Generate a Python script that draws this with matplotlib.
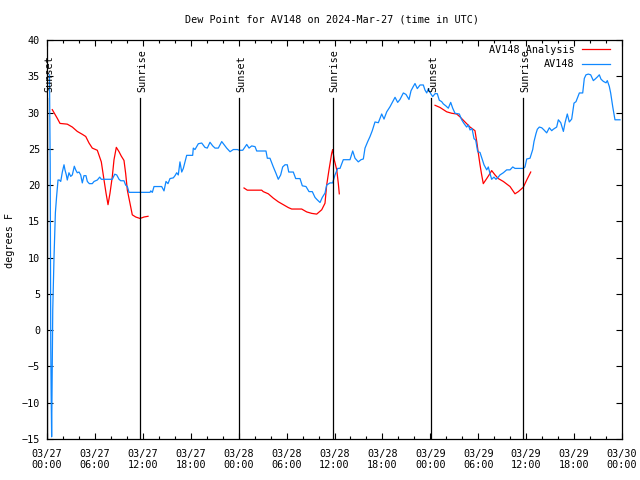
import numpy as np
import matplotlib
matplotlib.use("Agg")
import matplotlib.pyplot as plt
from matplotlib.ticker import MultipleLocator, FixedLocator

# ---- data (hours since 2024-03-27 00:00 UTC) ----
obs_hours = [0.31, 0.40, 0.47, 0.52, 0.58, 0.72, 0.88, 1.05, 1.20, 1.38, 1.54, 1.72, 1.92, 2.13, 2.25,
             2.42, 2.54, 2.75, 2.97, 3.17, 3.42, 3.59, 3.79, 4.01, 4.22, 4.42, 4.63, 4.88, 5.05, 5.30,
             5.67, 5.89, 6.30, 6.60, 6.80, 8.18, 8.48, 8.73, 9.02, 9.23, 9.64, 9.85, 10.06, 10.27, 12.90,
             12.99, 13.19, 13.40, 14.36, 14.65, 14.90, 15.15, 15.40, 15.82, 16.03, 16.24, 16.44, 16.65, 16.87,
             17.07, 17.28, 17.49, 18.24, 18.32, 18.53, 18.95, 19.37, 19.78, 20.07, 20.41, 20.75, 21.04, 21.45,
             21.88, 22.16, 22.50, 22.92, 23.33, 23.83, 24.08, 24.51, 25.01, 25.30, 25.63, 26.05, 26.26, 27.42,
             27.59, 27.92, 28.34, 28.68, 28.96, 29.26, 29.51, 29.80, 30.09, 30.27, 30.84, 31.14, 31.68, 31.97,
             32.43, 32.81, 33.22, 33.56, 33.81, 34.19, 34.47, 34.81, 35.02, 35.44, 35.77, 36.06, 36.40, 36.69,
             37.10, 37.94, 38.28, 38.57, 38.98, 39.32, 39.61, 39.82, 40.16, 40.45, 40.73, 41.07, 41.49, 41.91,
             42.20, 42.54, 42.95, 43.24, 43.58, 43.91, 44.20, 44.62, 44.95, 45.33, 45.58, 45.87, 46.08, 46.37,
             46.71, 47.12, 47.33, 47.55, 47.75, 48.05, 48.30, 48.59, 48.87, 49.12, 49.42, 49.62, 49.96, 50.25,
             50.55, 50.80, 51.09, 51.63, 51.93, 52.21, 52.55, 52.75, 52.97, 53.22, 53.47, 53.68, 53.93, 54.22,
             54.51, 54.72, 55.06, 55.26, 55.47, 55.68, 55.97, 56.22, 56.51, 56.72, 57.14, 57.56, 57.98, 58.32,
             58.60, 59.02, 59.64, 59.85, 60.07, 60.48, 60.82, 60.98, 61.23, 61.40, 61.65, 61.95, 62.23, 62.57,
             62.90, 63.20, 63.40, 63.82, 64.03, 64.33, 64.66, 64.87, 65.15, 65.40, 65.70, 65.99, 66.24, 66.66,
             67.08, 67.28, 67.49, 67.78, 68.08, 68.41, 68.62, 68.91, 69.16, 69.37, 69.66, 70.00, 70.16, 70.41,
             70.58, 70.84, 71.12, 71.75]
obs_dewpt = [35.2, 22.8, -2.0, -8.7, -14.7, 2.8, 10.1, 16.2, 18.4, 20.7, 20.7, 20.5, 21.8, 22.8, 22.1,
             21.4, 20.7, 21.7, 21.2, 21.4, 22.6, 22.1, 21.7, 21.8, 21.4, 20.3, 21.3, 21.3, 20.5, 20.2,
             20.2, 20.5, 20.7, 21.1, 20.8, 20.8, 21.5, 21.4, 20.8, 20.6, 20.6, 20.0, 19.8, 19.0, 19.0,
             19.2, 19.0, 19.8, 19.8, 19.2, 20.5, 20.2, 20.9, 21.0, 21.3, 21.7, 21.4, 23.2, 21.8,
             22.3, 23.2, 24.1, 24.1, 25.1, 24.9, 25.7, 25.8, 25.2, 25.1, 25.9, 25.4, 25.1, 25.1,
             26.0, 25.6, 25.1, 24.6, 24.9, 24.9, 24.8, 24.8, 25.6, 25.1, 25.4, 25.3, 24.7, 24.7,
             23.7, 23.7, 22.5, 21.6, 20.8, 21.4, 22.5, 22.8, 22.8, 21.8, 21.8, 20.9, 20.9, 19.9,
             19.8, 19.1, 19.1, 18.3, 18.0, 17.6, 18.3, 18.9, 20.0, 20.3, 20.3, 21.4, 22.3, 22.3,
             23.5, 23.5, 24.7, 23.7, 23.2, 23.5, 23.6, 25.1, 26.0, 26.7, 27.5, 28.7, 28.6, 29.8,
             29.1, 30.1, 30.8, 31.4, 32.1, 31.4, 31.8, 32.7, 32.5, 31.8, 33.0, 33.6, 34.0, 33.3,
             33.8, 33.8, 33.1, 32.7, 33.3, 32.6, 32.2, 32.6, 32.6, 31.7, 31.5, 31.2, 30.9, 30.6,
             31.4, 30.6, 29.9, 29.8, 29.0, 28.5, 28.0, 28.3, 27.6, 27.8, 26.4, 26.2, 24.6, 24.5,
             23.5, 22.8, 22.1, 22.5, 21.6, 20.8, 21.1, 20.8, 21.1, 21.4, 21.7, 22.1, 22.1, 22.5,
             22.3, 22.3, 22.3, 22.5, 23.6, 23.7, 24.9, 26.0, 27.1, 27.7, 28.0, 27.9, 27.6, 27.2,
             27.9, 27.5, 27.7, 28.0, 29.0, 28.6, 27.4, 28.6, 29.8, 28.7, 29.1, 31.3, 31.5, 32.7,
             32.7, 34.7, 35.2, 35.3, 35.2, 34.4, 34.6, 34.9, 35.2, 34.6, 34.3, 34.1, 34.4, 33.6,
             32.7, 30.8, 29.0, 29.0]

ana_hours_1 = [0.66, 1.29, 1.63, 2.54, 3.17, 3.79, 4.42, 4.85, 5.26, 5.67, 6.30, 6.80, 7.14, 7.39, 7.64,
               7.89, 8.18, 8.39, 8.68, 9.02, 9.30, 9.64, 9.85, 10.06, 10.39, 10.68, 11.11, 11.65, 12.15, 12.65]
ana_dewpt_1 = [30.4, 29.2, 28.5, 28.4, 28.0, 27.4, 27.0, 26.7, 25.8, 25.1, 24.8, 23.2, 20.7, 18.9, 17.3,
               18.9, 21.2, 23.5, 25.2, 24.6, 24.0, 23.4, 21.6, 19.3, 17.5, 15.9, 15.6, 15.4, 15.6, 15.7]
ana_hours_2 = [24.67, 25.08, 26.88, 27.08, 27.71, 28.34, 28.96, 29.59, 30.22, 30.64, 31.89, 32.52, 33.15,
               33.77, 34.40, 34.81, 35.02, 35.31, 35.65, 35.77, 35.97, 36.28, 36.48, 36.60]
ana_dewpt_2 = [19.6, 19.3, 19.3, 19.1, 18.8, 18.2, 17.7, 17.3, 16.9, 16.7, 16.7, 16.3, 16.1,
               16.0, 16.6, 17.5, 20.0, 22.1, 24.4, 24.9, 23.5, 22.1, 20.2, 18.8]
ana_hours_3 = [48.59, 49.21, 50.05, 50.68, 51.30, 51.72, 52.34, 52.97, 53.59, 53.81, 54.01, 54.22, 54.43,
               54.63, 55.06, 55.47, 55.68, 56.10, 56.51, 57.14, 57.98, 58.60, 59.02, 59.64, 60.07, 60.57]
ana_dewpt_3 = [31.0, 30.7, 30.1, 29.9, 29.8, 29.4, 28.7, 28.0, 27.5, 26.0, 24.4, 22.8, 21.4,
               20.2, 20.9, 21.6, 22.0, 21.4, 20.9, 20.5, 19.8, 18.8, 19.1, 19.7, 20.7, 21.8]

sun_hours = [0.04, 11.65, 24.08, 35.75, 48.12, 59.64]
sun_labels = ["Sunset", "Sunrise", "Sunset", "Sunrise", "Sunset", "Sunrise"]

xtick_hours = [0, 6, 12, 18, 24, 30, 36, 42, 48, 54, 60, 66, 72]
xtick_labels = ["03/27\n00:00", "03/27\n06:00", "03/27\n12:00", "03/27\n18:00",
                "03/28\n00:00", "03/28\n06:00", "03/28\n12:00", "03/28\n18:00",
                "03/29\n00:00", "03/29\n06:00", "03/29\n12:00", "03/29\n18:00",
                "03/30\n00:00"]
ytick_values = [-15, -10, -5, 0, 5, 10, 15, 20, 25, 30, 35, 40]

title = "Dew Point for AV148 on 2024-Mar-27 (time in UTC)"
ylabel = "degrees F"
red_label = "AV148 Analysis"
blue_label = "AV148"

# ---- plot ----
FS = 7.3
plt.rcParams['font.family'] = ['DejaVu Sans Mono']
RED = "#ff0000"
BLUE = "#1088ff"

fig = plt.figure(figsize=(6.4, 4.8), dpi=100)
W, H = 640, 480
ax = fig.add_axes([47 / W, 1 - 439 / H, (622 - 47) / W, (439 - 40) / H])
ax.set_xlim(0, 72)
ax.set_ylim(-15, 40)

lw = 0.9
l_red, = ax.plot(ana_hours_1, ana_dewpt_1, color=RED, lw=lw, label=red_label)
ax.plot(ana_hours_2, ana_dewpt_2, color=RED, lw=lw)
ax.plot(ana_hours_3, ana_dewpt_3, color=RED, lw=lw)
l_blue, = ax.plot(obs_hours, obs_dewpt, color=BLUE, lw=lw, label=blue_label)

line_top = 40 - (98 - 40) / ((439 - 40) / 55)
text_bot = 40 - (92 - 40) / ((439 - 40) / 55)
for h, lab in zip(sun_hours, sun_labels):
    ax.plot([h, h], [-15, line_top], color="black", lw=0.9)
    ax.text(h + 0.25, text_bot, lab, rotation=90, ha="center", va="bottom",
            fontsize=FS, color="black")

ax.xaxis.set_major_locator(FixedLocator(xtick_hours))
ax.set_xticklabels(xtick_labels)
ax.xaxis.set_minor_locator(MultipleLocator(2))
ax.set_yticks(ytick_values)
ax.tick_params(axis="both", which="both", direction="in", top=True, right=True,
               labelsize=FS, width=0.8, color="black")
ax.tick_params(axis="both", which="major", length=4.5)
ax.tick_params(axis="both", which="minor", length=2.5)
ax.tick_params(axis="x", which="major", pad=7)
ax.tick_params(axis="y", which="major", pad=5)
for sp in ax.spines.values():
    sp.set_linewidth(0.9)

fig.text(332 / W, 1 - 19 / H, title, ha="center", va="center", fontsize=FS)
fig.text(10 / W, 1 - 240 / H, ylabel, ha="center", va="center", rotation=90, fontsize=FS)

leg = ax.legend(handles=[l_red, l_blue], loc="upper right",
                bbox_to_anchor=((610 - 47) / 575, 1 - 5 / 399),
                frameon=False, markerfirst=False, fontsize=FS,
                handlelength=2.8, handletextpad=0.7, borderpad=0, borderaxespad=0,
                labelspacing=0.4)

fig.savefig("out.png", dpi=100)
